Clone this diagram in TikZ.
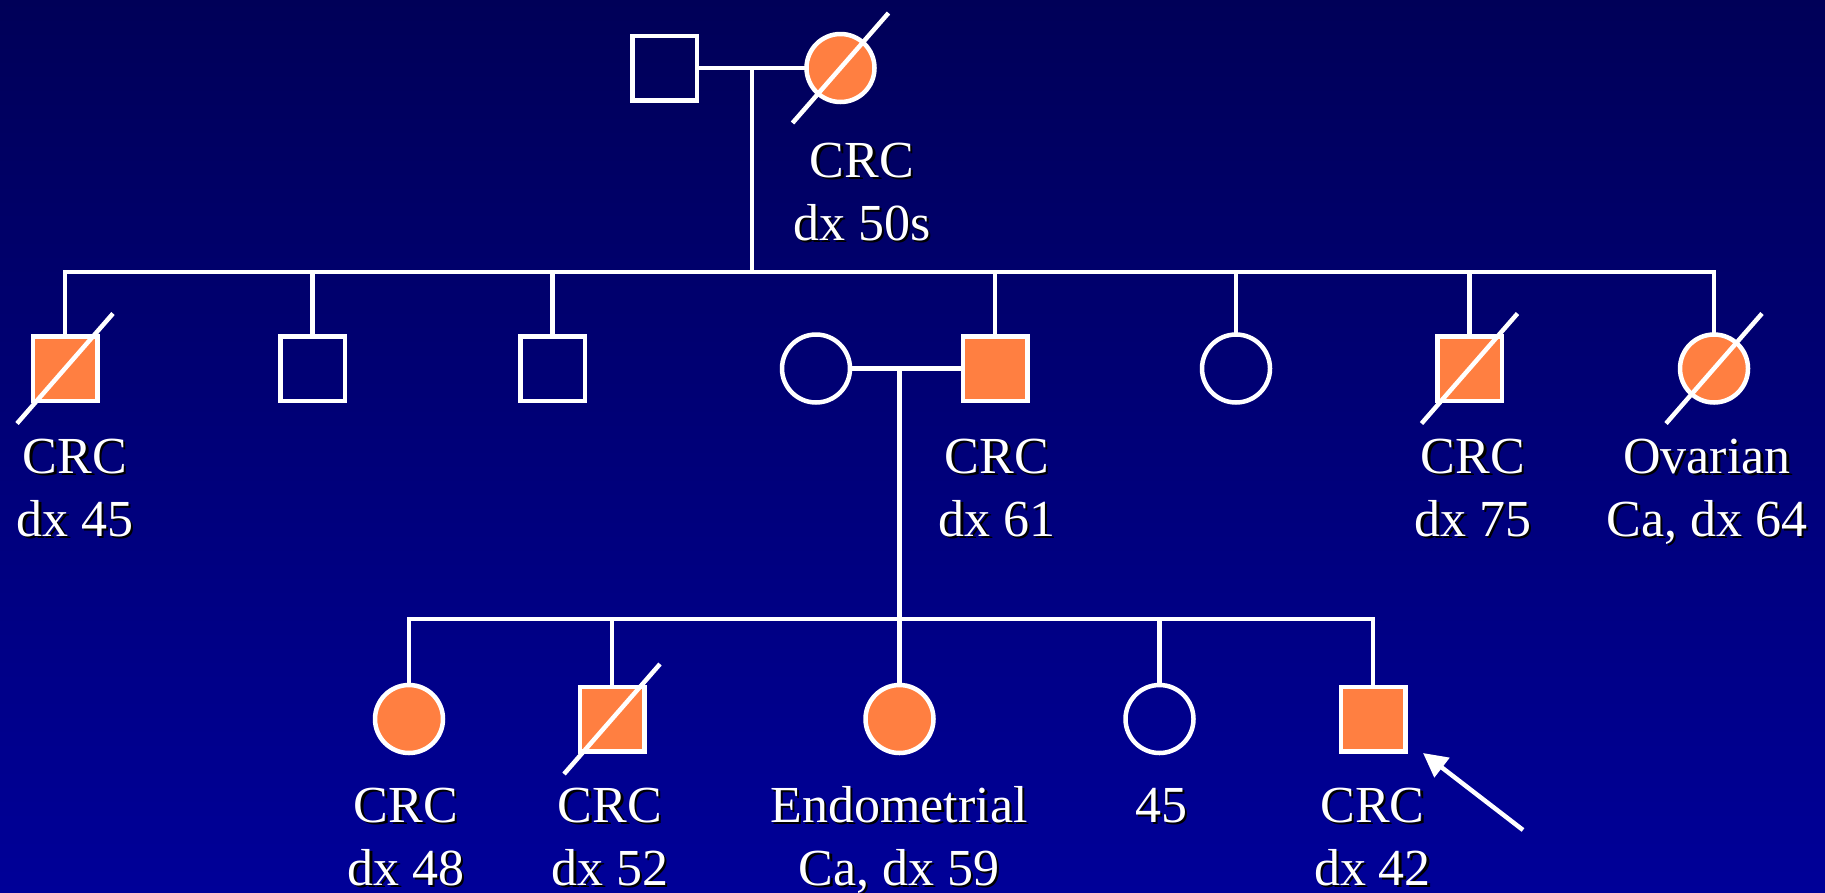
\documentclass[tikz,border=0pt]{standalone}
\usepackage{fontspec}
\setmainfont{Liberation Serif}
\usetikzlibrary{arrows.meta}
\definecolor{bgtop}{RGB}{0,0,88}
\definecolor{bgbot}{RGB}{0,0,152}
\definecolor{affected}{RGB}{255,127,65}
\tikzset{
  ped/.style={draw=white, line width=4.5pt, inner sep=0pt, outer sep=0pt},
  male/.style={ped, rectangle, minimum size=64.5pt},
  female/.style={ped, circle, minimum size=68pt},
  aff/.style={fill=affected},
  link/.style={draw=white, line width=4.5pt},
  slash/.style={draw=white, line width=4.5pt},
  lbl/.style={text=white, inner sep=0pt, outer sep=0pt, align=center, anchor=north,
    font=\fontsize{52}{63}\selectfont},
  pointer/.style={draw=white, line width=4.5pt, -{Triangle[length=24pt,width=24pt]}}
}
\newcommand\pedlabel[4]{%
  \node[lbl, text=black] (#1s) at (#2+2.5,#3+2.5) {#4};
  \node[lbl] (#1) at (#2,#3) {#4};}
\newcommand\deceased[1]{%
  \draw[slash] ([shift={(-48,55)}]#1.center) -- ([shift={(48,-55)}]#1.center);}
\begin{document}
\begin{tikzpicture}[x=1pt,y=-1pt]
\shade[top color=bgtop, bottom color=bgbot] (0,0) rectangle (1825,892);
\useasboundingbox (0,0) rectangle (1825,892);

% Generation I
\node[male] (I1) at (664.5,68) {};
\node[female, aff] (I2) at (840.5,68) {};
\draw[link] (I1) -- (I2);
\deceased{I2}
\coordinate (m1) at (752,68);
\coordinate (s1) at (752,272);
\draw[link] (m1) -- (s1);
\pedlabel{L1}{862}{177-44.1}{\strut CRC\\\strut dx 50s}

% Generation II
\node[male, aff] (II1) at (65,368.5) {};
\node[male] (II2) at (312.5,368.5) {};
\node[male] (II3) at (552.5,368.5) {};
\node[female] (II4) at (816,368.5) {};
\node[male, aff] (II5) at (995,368.5) {};
\node[female] (II6) at (1236,368.5) {};
\node[male, aff] (II7) at (1469.5,368.5) {};
\node[female, aff] (II8) at (1714,368.5) {};
\draw[link] (II1.north) -- (II1.north |- s1) -- (II8.north |- s1) -- (II8.north);
\foreach \n in {II2,II3,II5,II6,II7} {\draw[link] (\n.north) -- (\n.north |- s1);}
\deceased{II1}
\deceased{II7}
\deceased{II8}
\draw[link] (II4) -- (II5);
\coordinate (m2) at (899.5,368.5);
\coordinate (s2) at (899.5,619);
\draw[link] (m2) -- (s2);
\pedlabel{L2}{75}{473-44.1}{\strut CRC\\\strut dx 45}
\pedlabel{L3}{997}{473-44.1}{\strut CRC\\\strut dx 61}
\pedlabel{L4}{1473}{473-44.1}{\strut CRC\\\strut dx 75}
\pedlabel{L5}{1707}{473-44.1}{\strut Ovarian\\\strut Ca, dx 64}

% Generation III
\node[female, aff] (III1) at (409,719) {};
\node[male, aff] (III2) at (612,719) {};
\node[female, aff] (III3) at (899.5,719) {};
\node[female] (III4) at (1159.5,719) {};
\node[male, aff] (III5) at (1373,719) {};
\draw[link] (III1.north) -- (III1.north |- s2) -- (III5.north |- s2) -- (III5.north);
\foreach \n in {III2,III3,III4} {\draw[link] (\n.north) -- (\n.north |- s2);}
\deceased{III2}
\pedlabel{L6}{406}{822-44.1}{\strut CRC\\\strut dx 48}
\pedlabel{L7}{610}{822-44.1}{\strut CRC\\\strut dx 52}
\pedlabel{L8}{899}{822-44.1}{\strut Endometrial\\\strut Ca, dx 59}
\pedlabel{L9}{1161}{822-44.1}{\strut 45}
\pedlabel{L10}{1372.5}{822-44.1}{\strut CRC\\\strut dx 42}

% proband arrow
\coordinate (ptail) at (1523,830);
\coordinate (ptip) at (1423,753);
\draw[pointer] (ptail) -- (ptip);
\end{tikzpicture}
\end{document}
